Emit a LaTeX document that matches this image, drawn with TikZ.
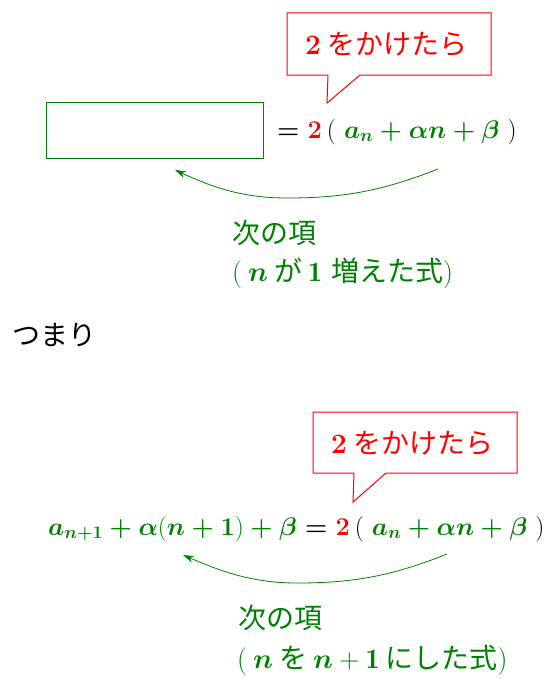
\RequirePackage{fix-cm}
\documentclass[tikz,border=0pt]{standalone}
\usepackage{amsmath}
\usepackage{bm}
\usepackage{fontspec}
\newfontfamily\jp{Noto Sans CJK JP}
\definecolor{g}{RGB}{0,128,0}
\usetikzlibrary{arrows.meta}
\newcommand{\lpar}{{\rmfamily\mdseries(}}
\newcommand{\rpar}{{\rmfamily\mdseries)}}
\begin{document}
\begin{tikzpicture}[x=1pt,y=-1pt,
  txt/.style={inner sep=0pt, anchor=base west},
  jpf/.style={font=\jp\fontsize{28}{32}\selectfont},
  mth/.style={font=\boldmath\fontsize{25.5}{30}\selectfont},
  callout/.style={draw=red, line width=1pt, fill=white},
  arr/.style={draw=g, line width=0.8pt, -{Stealth[length=11pt,width=7pt]}}
]
\useasboundingbox (0,0) rectangle (554,685);

% ---- top part ----
\draw[callout] (287,13) -- (491,13) -- (491,75) -- (360,75) -- (327,103) -- (328,75) -- (287,75) -- cycle;
\node[txt,jpf,red] (t1) at (305,55) {{\rmfamily\bfseries 2}\hspace{7pt}をかけたら};

\node[draw=g, line width=1pt, minimum width=217pt, minimum height=56pt, inner sep=0pt, anchor=north west] (box) at (46,102) {};

\node[txt,mth] (eq1) at (277,138) {$=\textcolor{red}{2}\,\text{(}\;\color{g}a_n+\alpha n+\beta\;\color{black}\text{)}$};

\coordinate (s1) at (438,169);
\coordinate (m1) at (287,198);
\coordinate (e1) at (175,170);
\draw[arr] (s1) .. controls (380,192) and (340,198) .. (m1) .. controls (240,198) and (210,186) .. (e1);

\node[txt,jpf,g] (l1a) at (232,243) {次の項};
\node[txt,jpf,g] (l1b) at (232,281) {\lpar\hspace{6pt}$\bm{n}$\hspace{6pt}が\hspace{6pt}$\mathbf{1}$\hspace{9pt}増えた式\rpar};

\node[txt,jpf] (tsumari) at (12,345) {つまり};

% ---- bottom part ----
\draw[callout] (313,412) -- (517,412) -- (517,473) -- (386,473) -- (353,502) -- (354,473) -- (313,473) -- cycle;
\node[txt,jpf,red] (t2) at (331,453) {{\rmfamily\bfseries 2}\hspace{7pt}をかけたら};

\node[txt,mth] (eq2) at (48,535) {$\color{g}a_{n+1}+\alpha\text{(}n+1\text{)}+\beta\color{black}=\textcolor{red}{2}\,\text{(}\;\color{g}a_n+\alpha n+\beta\;\color{black}\text{)}$};

\coordinate (s2) at (447,554);
\coordinate (m2) at (297,583);
\coordinate (e2) at (183,555);
\draw[arr] (s2) .. controls (390,577) and (350,583) .. (m2) .. controls (250,583) and (218,570) .. (e2);

\node[txt,jpf,g] (l2a) at (238,628) {次の項};
\node[txt,jpf,g] (l2b) at (237,668) {\lpar\hspace{6pt}$\bm{n}$\hspace{6pt}を\hspace{6pt}$\bm{n}+\mathbf{1}$\hspace{6pt}にした式\rpar};
\end{tikzpicture}
\end{document}
